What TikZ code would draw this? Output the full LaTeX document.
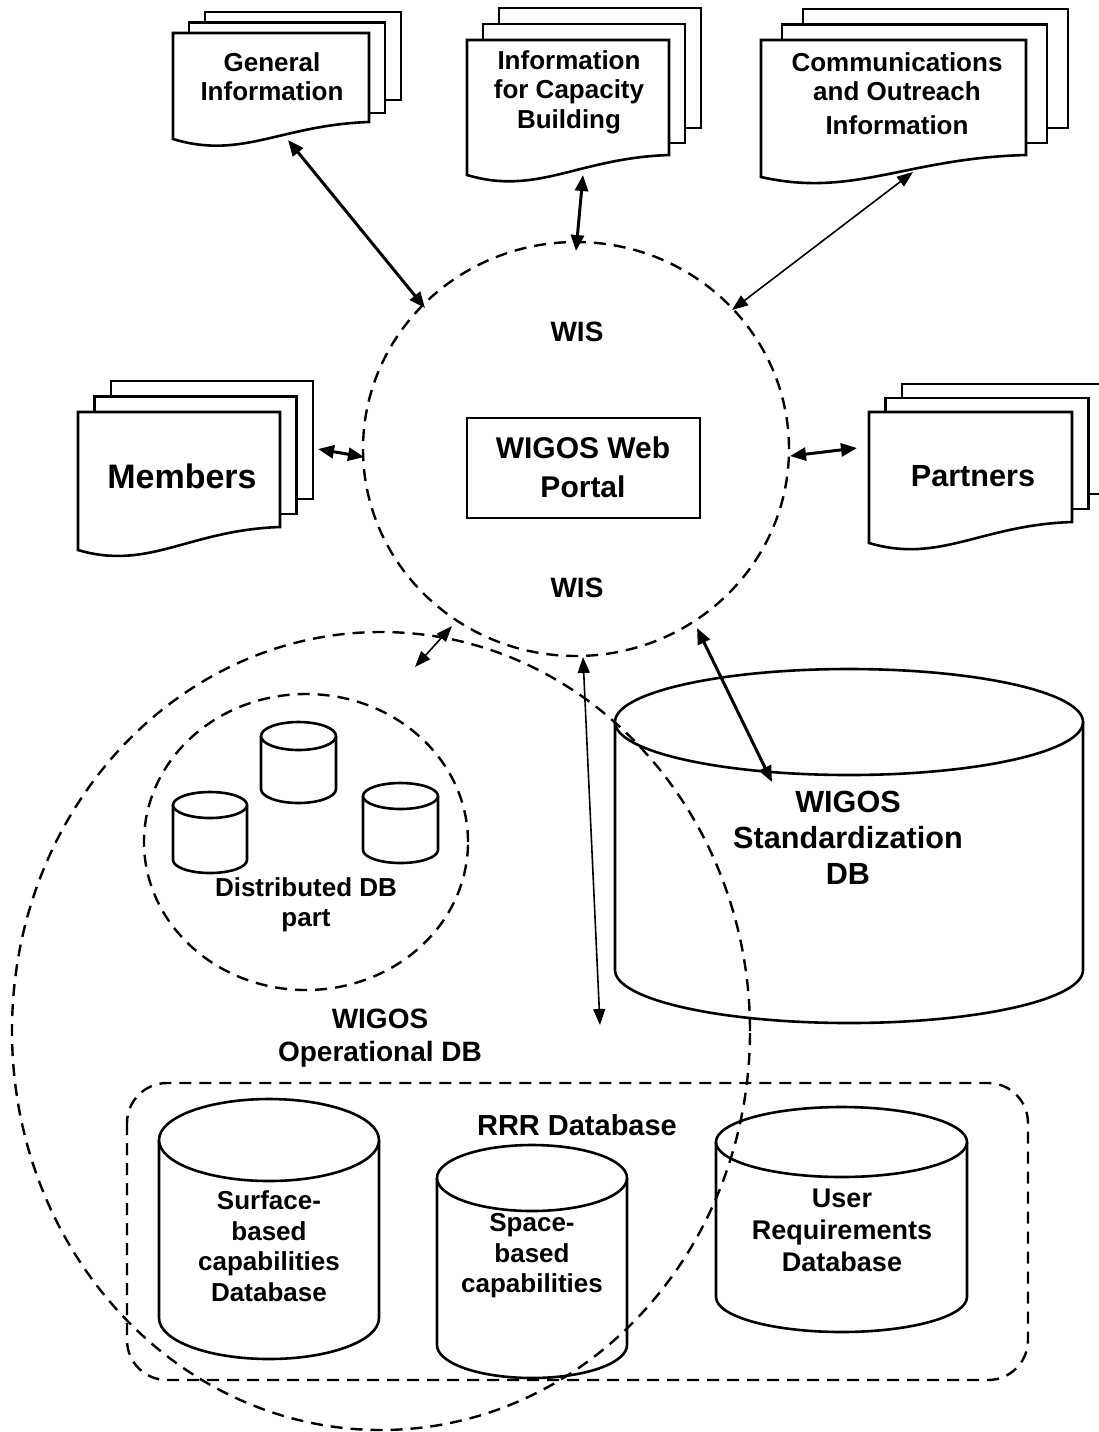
\documentclass[tikz,border=0pt]{standalone}
\usepackage{fontspec}
\setmainfont{Liberation Sans}
\usetikzlibrary{arrows.meta}
\tikzset{
  sheet/.style={draw, line width=1.3pt, fill=white, line join=miter},
  dashc/.style={draw, line width=1.2pt, dash pattern=on 6pt off 4pt},
  cyl/.style={draw, line width=1.3pt, fill=white},
  thickarr/.style={line width=1.5pt, {Triangle[length=8pt,width=6.5pt]}-{Triangle[length=8pt,width=6.5pt]}},
  thinarr/.style={line width=0.8pt, {Triangle[length=8pt,width=6pt]}-{Triangle[length=8pt,width=6pt]}},
  lbl/.style={align=center, inner sep=0pt},
}
% #1 x0 #2 x1 #3 top #4 yL #5 yR #6 dx #7 dy #8 mid bottom #9 back bottom
\newcommand\docstack[9]{%
  \path[sheet] ({#1+2*#6},{#3+2*#7}) rectangle ({#2+2*#6},#9);
  \path[sheet] ({#1+#6},{#3+#7}) rectangle ({#2+#6},#8);
  \path[sheet] (#1,#3) -- (#1,#4) .. controls ({#1+0.35*(#2-#1)},{#4+21}) and ({#1+0.55*(#2-#1)},{#5+3}) .. (#2,#5) -- (#2,#3) -- cycle;
}
% #1 cx #2 top centre y #3 bottom centre y #4 rx #5 ry  (pixels)
\newcommand\dbcyl[5]{%
  \path[cyl] ({#1-#4},#2) -- ({#1-#4},#3) arc[start angle=180,end angle=360,x radius={#4*0.5pt},y radius={#5*0.5pt}] -- ({#1+#4},#2);
  \path[cyl] (#1,#2) ellipse[x radius={#4*0.5pt}, y radius={#5*0.5pt}];
}
\newcommand\fs[2]{\bfseries\fontsize{#1}{#2}\selectfont}
\begin{document}
\begin{tikzpicture}[x=0.5pt,y=-0.5pt]
\useasboundingbox (0,0) rectangle (1099,1432);

% document stacks
\docstack{173}{369}{33}{139}{122}{16}{-10.5}{113}{100}
\docstack{467}{669}{40}{175}{155}{16}{-16}{143}{128}
\docstack{761}{1026}{40}{177}{155}{21}{-15.5}{143}{128}
\docstack{78}{280}{412}{550}{527}{16.5}{-15.5}{514}{499}
\docstack{869}{1072}{412}{543}{522}{16.5}{-14}{509}{494}

\node[lbl, font=\fs{13}{14.5}] (gi) at (272,77) {General\\Information};
\node[lbl, font=\fs{13}{14.75}] (cb) at (569,92) {Information\\for Capacity\\Building};
\node[lbl, font=\fs{13}{14.5}] (comm) at (897,94) {Communications\\and Outreach\\[2.5pt]Information};
\node[lbl, font=\fs{17}{20}] (members) at (182,476) {Members};
\node[lbl, font=\fs{15.3}{18}] (partners) at (973,476) {Partners};

% portal
\draw[line width=1.2pt] (467,418) rectangle (700,518);
\node[lbl, font=\fs{15}{19.5}] (portal) at (583,467) {WIGOS Web\\Portal};
\node[lbl, font=\fs{14}{16}] (wis1) at (577,332) {WIS};
\node[lbl, font=\fs{14}{16}] (wis2) at (577,588) {WIS};

% cylinders
\dbcyl{849}{722}{970}{234}{53}
\dbcyl{210}{805}{860}{37}{13}
\dbcyl{298.5}{736}{789}{37.5}{14}
\dbcyl{400.5}{796}{850}{37.5}{13}
\dbcyl{269}{1140}{1318}{110}{41}
\dbcyl{532}{1178}{1345}{95}{33}
\dbcyl{841.5}{1142}{1297}{125.5}{35}

\node[lbl, font=\fs{15.3}{18}] (std) at (848,838) {WIGOS\\Standardization\\DB};
\node[lbl, font=\fs{13}{15}] (dist) at (306,905) {Distributed DB\\part};
\node[lbl, font=\fs{14}{16.5}] (oper) at (380,1038) {WIGOS\\Operational DB};
\node[lbl, font=\fs{14.5}{17}] (rrr) at (577,1125) {RRR Database};
\node[lbl, font=\fs{13}{15.3}] (surf) at (269,1246) {Surface-\\based\\capabilities\\Database};
\node[lbl, font=\fs{13}{15.3}] (space) at (532,1256) {Space-\\based\\capabilities};
\node[lbl, font=\fs{13.5}{16}] (user) at (842,1230) {User\\Requirements\\Database};

% dashed groupings
\path[dashc] (576,449) ellipse[x radius=106.5pt, y radius=103.5pt];
\path[dashc] (306,842) ellipse[x radius=81pt, y radius=74pt];
\path[dashc] (381,1031) ellipse[x radius=184.5pt, y radius=199.5pt];
\path[dashc, rounded corners=20pt] (127,1083) rectangle (1028,1380);

% connector end points
\coordinate (giA) at (288,140);   \coordinate (wisGI) at (425,308);
\coordinate (cbA) at (583,175);   \coordinate (wisCB) at (576,251);
\coordinate (commA) at (913,172); \coordinate (wisCO) at (732,310);
\coordinate (memA) at (318,449);  \coordinate (wisME) at (364,457);
\coordinate (parA) at (857,448);  \coordinate (wisPA) at (790,456);
\coordinate (opA) at (415,667);   \coordinate (wisOP) at (452,626);
\coordinate (rrrA) at (600,1025); \coordinate (wisRR) at (583,657);
\coordinate (stdA) at (772,782);  \coordinate (wisST) at (697,628);

\draw[thickarr] (giA) -- (wisGI);
\draw[thickarr] (cbA) -- (wisCB);
\draw[thinarr] (commA) -- (wisCO);
\draw[thickarr] (memA) -- (wisME);
\draw[thickarr] (wisPA) -- (parA);
\draw[thinarr] (opA) -- (wisOP);
\draw[thinarr] (wisRR) -- (rrrA);
\draw[thickarr] (wisST) -- (stdA);
\end{tikzpicture}
\end{document}
